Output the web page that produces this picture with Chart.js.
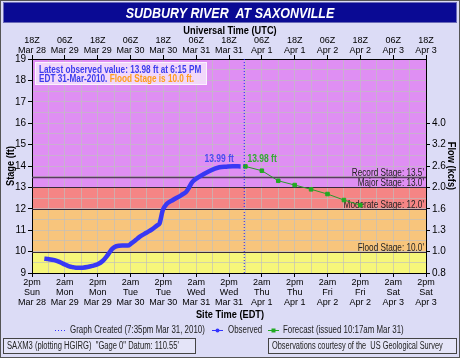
<!DOCTYPE html>
<html><head><meta charset="utf-8">
<script src="https://cdn.jsdelivr.net/npm/chart.js@4/dist/chart.umd.min.js"></script>
<style>html,body{margin:0;padding:0;background:#dcdcf6;}canvas{display:block;}</style>
</head><body>
<canvas id="c" width="460" height="358"></canvas>
<script>
// ---- data ----
const titleText = 'SUDBURY RIVER  AT SAXONVILLE';
const timeLabels = ['2pm','2am','2pm','2am','2pm','2am','2pm','2am','2pm','2am','2pm','2am','2pm'];
const dayLabels = ['Sun','Mon','Mon','Tue','Tue','Wed','Wed','Thu','Thu','Fri','Fri','Sat','Sat'];
const dateLabels = ['Mar 28','Mar 29','Mar 29','Mar 30','Mar 30','Mar 31','Mar 31','Apr 1','Apr 1','Apr 2','Apr 2','Apr 3','Apr 3'];
const utcLabels = ['18Z','06Z','18Z','06Z','18Z','06Z','18Z','06Z','18Z','06Z','18Z','06Z','18Z'];
const utcDates = ['Mar 28','Mar 29','Mar 29','Mar 30','Mar 30','Mar 31','Mar 31','Apr 1','Apr 1','Apr 2','Apr 2','Apr 3','Apr 3'];
const stageTicks = [9,10,11,12,13,14,15,16,17,18,19];
const flowTicks = [9,10,11,12,13,14,15,16];
const flowLabels = ['0.8','1.0','1.3','1.6','2.0','2.6','3.2','4.0'];
// hours since 2pm EDT Sun Mar 28
const obsHours = [4.5,6,8.2,10,12,13.6,15,16.6,18.5,20.3,22,24,25.8,27.6,29.4,30.8,33,35,36.3,38,39.3,41.8,44,45.9,46.6,47.8,49.2,51.5,54.6,56.4,57,58.7,61.2,64.9,68.5,71,73.4,76.25];
const obsStage = [9.67,9.65,9.6,9.52,9.4,9.31,9.27,9.24,9.25,9.28,9.33,9.41,9.56,9.83,10.14,10.25,10.28,10.28,10.38,10.55,10.69,10.88,11.05,11.24,11.31,11.94,12.22,12.41,12.64,12.8,12.91,13.27,13.5,13.77,13.94,13.97,13.99,13.98];
const fcstHours = [78,84,90,96,102,108,114,120];
const fcstStage = [13.98,13.78,13.31,13.11,12.91,12.69,12.41,12.17];
const createdHour = 77.58;
const bandFrom = [9,10,12,13];
const bandTo = [10,12,13,19];
const thresholdValues = [13.5,13.0,12.0,10.0];
const thresholdNames = ['Record Stage: 13.5\'','Major Stage: 13.0\'','Moderate Stage: 12.0\'','Flood Stage: 10.0\''];
const obsLabel = '13.99 ft';
const fcstLabel = '13.98 ft';

// ---- styles ----
const FONT = "'Liberation Sans',Arial,sans-serif";
const bandColors = ['#f6f67a','#f8c57c','#f58585','#df8ff3'];
const gridColor = 'rgba(190,190,190,0.65)';
Chart.defaults.font.family = FONT;
Chart.defaults.font.size = 9;
Chart.defaults.color = '#000';

const tickColorFn = (step) => (ctx) => (ctx.tick && Math.abs(ctx.tick.value % step) < 1e-6) ? '#000' : 'rgba(0,0,0,0)';

function nText(ctx, text, x, y, font, sx, align) {
  ctx.save();
  ctx.font = font; ctx.textAlign = align || 'left';
  ctx.translate(x, y); ctx.scale(sx, 1);
  ctx.fillText(text, 0, 0);
  const w = ctx.measureText(text).width * sx;
  ctx.restore();
  return w;
}

const decor = {
  id: 'decor',
  beforeDraw(chart) {
    const {ctx, chartArea: a, scales: {x, y}} = chart;
    ctx.save();
    ctx.fillStyle = '#dcdcf6'; ctx.fillRect(0, 0, 460, 358);
    ctx.strokeStyle = '#555'; ctx.lineWidth = 1; ctx.strokeRect(0.5, 0.5, 459, 357);
    // title bar
    ctx.fillStyle = '#0a0a94'; ctx.fillRect(3, 2, 454, 21);
    ctx.strokeStyle = '#6a6ab8'; ctx.strokeRect(3.5, 2.5, 453, 20);
    ctx.textBaseline = 'middle';
    ctx.fillStyle = '#fff';
    nText(ctx, titleText, 230, 13.5, "italic bold 15px " + FONT, 0.83, 'center');
    // axis titles
    ctx.fillStyle = '#000';
    const tf = "bold 11px " + FONT;
    nText(ctx, 'Universal Time (UTC)', 230, 31, tf, 0.84, 'center');
    nText(ctx, 'Site Time (EDT)', 230, 315, tf, 0.84, 'center');
    ctx.save(); ctx.translate(11, 166); ctx.rotate(-Math.PI / 2); nText(ctx, 'Stage (ft)', 0, 0, tf, 0.84, 'center'); ctx.restore();
    ctx.save(); ctx.translate(451, 166); ctx.rotate(Math.PI / 2); nText(ctx, 'Flow (kcfs)', 0, 0, tf, 0.84, 'center'); ctx.restore();
    // bands
    for (let i = 0; i < bandFrom.length; i++) {
      const y1 = y.getPixelForValue(bandFrom[i]), y2 = y.getPixelForValue(bandTo[i]);
      ctx.fillStyle = bandColors[i];
      ctx.fillRect(a.left, y2, a.right - a.left, y1 - y2);
    }
    ctx.restore();
  },
  beforeDatasetsDraw(chart) {
    const {ctx, chartArea: a, scales: {y}} = chart;
    ctx.save();
    ctx.textBaseline = 'alphabetic';
    for (let i = 0; i < thresholdValues.length; i++) {
      const py = Math.round(y.getPixelForValue(thresholdValues[i])) + 0.5;
      ctx.strokeStyle = i === 0 ? '#5a3a60' : '#3a2a3a';
      ctx.lineWidth = i === 0 ? 1.6 : 1;
      ctx.beginPath(); ctx.moveTo(a.left, py); ctx.lineTo(a.right, py); ctx.stroke();
      ctx.fillStyle = '#222';
      nText(ctx, thresholdNames[i], a.right - 2, py - 1.5, '10px ' + FONT, 0.82, 'right');
    }
    ctx.restore();
  },
  afterDraw(chart) {
    const {ctx, scales: {x, y}} = chart;
    ctx.save();
    // info box
    ctx.fillStyle = 'rgba(246,232,252,0.8)'; ctx.fillRect(35, 62, 172, 23);
    ctx.strokeStyle = 'rgba(255,255,255,0.7)'; ctx.strokeRect(35.5, 62.5, 171, 22);
    ctx.textBaseline = 'middle';
    const bf = 'bold 10px ' + FONT;
    ctx.fillStyle = '#3c3cee';
    nText(ctx, 'Latest observed value: 13.98 ft at 6:15 PM', 39, 70, bf, 0.82, 'left');
    const w1 = nText(ctx, 'EDT 31-Mar-2010. ', 39, 79.5, bf, 0.82, 'left');
    ctx.fillStyle = '#ff9c1a';
    nText(ctx, 'Flood Stage is 10.0 ft.', 39 + w1, 79.5, bf, 0.82, 'left');
    // value labels
    let mi = 0; obsStage.forEach((v, i) => { if (v > obsStage[mi]) mi = i; });
    ctx.fillStyle = '#4a4af0';
    nText(ctx, obsLabel, x.getPixelForValue(obsHours[mi]) + 1, y.getPixelForValue(obsStage[mi]) - 7, bf, 0.85, 'right');
    ctx.fillStyle = '#33a833';
    nText(ctx, fcstLabel, x.getPixelForValue(fcstHours[0]) + 2, y.getPixelForValue(fcstStage[0]) - 7, bf, 0.85, 'left');
    // legend
    const lf = '10px ' + FONT;
    const ly = 330;
    ctx.strokeStyle = '#3333ff'; ctx.lineWidth = 1; ctx.setLineDash([1, 2]);
    ctx.beginPath(); ctx.moveTo(55, ly + 0.5); ctx.lineTo(66, ly + 0.5); ctx.stroke();
    ctx.setLineDash([]);
    ctx.fillStyle = '#222';
    nText(ctx, 'Graph Created (7:35pm Mar 31, 2010)', 70, ly, lf, 0.79, 'left');
    ctx.beginPath(); ctx.moveTo(212, ly + 0.5); ctx.lineTo(223, ly + 0.5); ctx.stroke();
    ctx.fillStyle = '#3333ff'; ctx.beginPath(); ctx.arc(217.5, ly + 0.5, 2, 0, Math.PI * 2); ctx.fill();
    ctx.fillStyle = '#222'; nText(ctx, 'Observed', 228, ly, lf, 0.79, 'left');
    ctx.strokeStyle = '#22aa22';
    ctx.beginPath(); ctx.moveTo(268, ly + 0.5); ctx.lineTo(279, ly + 0.5); ctx.stroke();
    ctx.fillStyle = '#22aa22'; ctx.fillRect(271.5, ly - 1.5, 4, 4);
    ctx.fillStyle = '#222'; nText(ctx, 'Forecast (issued 10:17am Mar 31)', 283, ly, lf, 0.79, 'left');
    // footer boxes
    ctx.strokeStyle = '#444'; ctx.lineWidth = 1;
    ctx.fillStyle = '#e4e4f8'; ctx.fillRect(3, 338, 192, 15); ctx.strokeRect(3.5, 338.5, 192, 15);
    ctx.fillRect(268, 338, 189, 15); ctx.strokeRect(268.5, 338.5, 188, 15);
    ctx.fillStyle = '#222';
    nText(ctx, 'SAXM3 (plotting HGIRG)  "Gage 0" Datum: 110.55\'', 7, 346, lf, 0.76, 'left');
    nText(ctx, 'Observations courtesy of the  US Geological Survey', 272, 346, lf, 0.74, 'left');
    ctx.restore();
  }
};

new Chart(document.getElementById('c'), {
  type: 'line',
  data: {
    datasets: [
      { label: 'Graph Created', data: [{x: createdHour, y: 9}, {x: createdHour, y: 19}],
        borderColor: '#2222ff', borderWidth: 1, borderDash: [1, 2], pointRadius: 0, xAxisID: 'x', yAxisID: 'y' },
      { label: 'Observed', data: obsHours.map((h, i) => ({x: h, y: obsStage[i]})),
        borderColor: '#3838f4', borderWidth: 4.5, pointRadius: 0, cubicInterpolationMode: 'monotone', xAxisID: 'x', yAxisID: 'y' },
      { label: 'Forecast', data: fcstHours.map((h, i) => ({x: h, y: fcstStage[i]})),
        borderColor: '#2a9a2a', borderWidth: 1, pointStyle: 'rect', pointRadius: 2.5, pointBackgroundColor: '#22aa22', pointBorderColor: '#22aa22', xAxisID: 'x', yAxisID: 'y' }
    ]
  },
  options: {
    responsive: false, animation: false, devicePixelRatio: 1,
    layout: { padding: 0 },
    plugins: { legend: { display: false }, tooltip: { enabled: false }, title: { display: false } },
    scales: {
      x: {
        type: 'linear', position: 'bottom', min: 0, max: 144,
        afterBuildTicks: s => { s.ticks = []; for (let h = 0; h <= 144; h += 6) s.ticks.push({value: h}); },
        afterFit: s => { s.height = 85; },
        ticks: { autoSkip: false, maxRotation: 0, minRotation: 0, padding: 1, font: {size: 9, lineHeight: 1.1},
          callback: v => v % 12 === 0 ? [timeLabels[v / 12], dayLabels[v / 12], dateLabels[v / 12]] : '' },
        grid: { color: gridColor, tickLength: 4, tickColor: tickColorFn(12) },
        border: { color: '#000' }
      },
      x2: {
        type: 'linear', position: 'top', min: 0, max: 144,
        afterBuildTicks: s => { s.ticks = []; for (let h = 0; h <= 144; h += 12) s.ticks.push({value: h}); },
        afterFit: s => { s.height = 59; },
        ticks: { autoSkip: false, maxRotation: 0, minRotation: 0, padding: 0, font: {size: 9, lineHeight: 1.05},
          callback: v => [utcLabels[v / 12], utcDates[v / 12]] },
        grid: { drawOnChartArea: false, tickLength: 4, tickColor: '#000' },
        border: { color: '#000' }
      },
      y: {
        type: 'linear', position: 'left', min: 9, max: 19,
        afterBuildTicks: s => { s.ticks = []; for (let v = 9; v <= 19.001; v += 0.5) s.ticks.push({value: v}); },
        afterFit: s => { s.width = 32; },
        ticks: { autoSkip: false, padding: 2, font: {size: 10},
          callback: v => stageTicks.includes(v) ? String(v) : '' },
        grid: { color: gridColor, tickLength: 4, tickColor: tickColorFn(1) },
        border: { color: '#000' }
      },
      y2: {
        type: 'linear', position: 'right', min: 9, max: 19,
        afterBuildTicks: s => { s.ticks = flowTicks.map(v => ({value: v})); },
        afterFit: s => { s.width = 34; },
        ticks: { autoSkip: false, padding: 2, font: {size: 10},
          callback: v => flowLabels[flowTicks.indexOf(v)] },
        grid: { drawOnChartArea: false, tickLength: 4, tickColor: '#000' },
        border: { color: '#000' }
      }
    }
  },
  plugins: [decor]
});
</script>
</body></html>
